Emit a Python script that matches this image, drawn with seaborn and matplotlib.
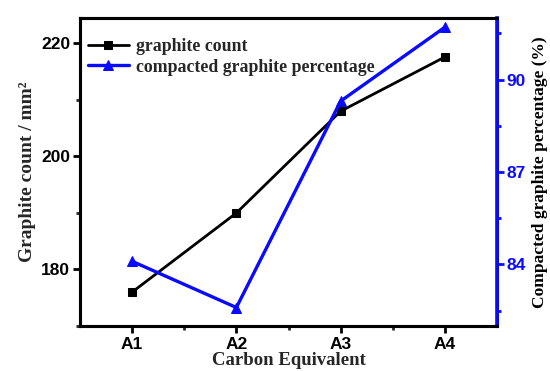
import matplotlib
matplotlib.use("Agg")
import matplotlib.pyplot as plt
import seaborn as sns
import pandas as pd
from matplotlib.ticker import MultipleLocator

categories = ["A1", "A2", "A3", "A4"]
graphite_count = [176, 190, 208, 217.6]
compacted_pct = [84.1, 82.6, 89.3, 91.7]

sns.set_style("ticks")
plt.rcParams['font.family'] = ['Liberation Sans', 'DejaVu Sans']

df = pd.DataFrame({"ce": categories, "count": graphite_count, "pct": compacted_pct})
df["x"] = range(len(categories))

fig = plt.figure(figsize=(5.5, 3.71), dpi=100)
ax = fig.add_axes([0.1455, 0.1213, 0.7581, 0.8302])
ax2 = ax.twinx()

sns.lineplot(data=df, x="x", y="count", ax=ax, color="black", marker="s",
             markersize=6, linewidth=2, markeredgecolor="black", label="graphite count",
             legend=False)
sns.lineplot(data=df, x="x", y="pct", ax=ax2, color="#0a0aff", marker="^",
             markersize=7.5, linewidth=2.4, markeredgecolor="#0a0aff",
             label="compacted graphite percentage", legend=False)

ax.set_xlim(-0.5, 3.5)
ax.set_ylim(170, 224.5)
ax2.set_ylim(82, 92)

ax.set_xticks(range(len(categories)))
ax.set_xticklabels(categories)
ax.set_xticks([0.5, 1.5, 2.5], minor=True)
ax.yaxis.set_major_locator(MultipleLocator(20))
ax.yaxis.set_minor_locator(MultipleLocator(10))
ax2.set_yticks([84, 87, 90])
ax2.set_yticks([82.5, 85.5, 88.5, 91.5], minor=True)

for a in (ax, ax2):
    for s in a.spines.values():
        s.set_linewidth(2.2)
        s.set_color("black")
ax2.spines["right"].set_color("#0a0aff")
ax2.spines["right"].set_linewidth(2.6)

ax.tick_params(axis="both", which="major", direction="out", length=5, width=2,
               labelsize=12.5, pad=2, colors="black")
ax.tick_params(axis="x", which="major", pad=3)
ax.tick_params(axis="both", which="minor", direction="out", length=3, width=2)
ax.tick_params(axis="y", right=False)
ax.tick_params(axis="x", top=False)
ax2.tick_params(axis="y", which="major", direction="out", length=5, width=2,
                labelsize=12.5, pad=2, colors="#0a0aff")
ax2.tick_params(axis="y", which="minor", direction="out", length=3, width=2,
                colors="#0a0aff")
for lab in ax.get_xticklabels() + ax.get_yticklabels() + ax2.get_yticklabels():
    lab.set_fontweight("bold")

serif = ['Liberation Serif', 'DejaVu Serif']
ax.set_xlabel("Carbon Equivalent", family=serif, fontweight="bold", fontsize=13.5, labelpad=0)
ax.set_ylabel("Graphite count / mm²", family=serif, fontweight="bold", fontsize=14, labelpad=4)
ax2.set_ylabel("Compacted graphite percentage (%)", family=serif, fontweight="bold",
               fontsize=12.5, labelpad=4, color="black")

h1 = ax.get_lines()[0]
h2 = ax2.get_lines()[0]
ax.legend([h1, h2], ["graphite count", "compacted graphite percentage"],
          loc="upper left", bbox_to_anchor=(0.019, 0.935), frameon=False,
          handlelength=2.3, handletextpad=0.4, borderaxespad=0, borderpad=0,
          labelspacing=0.2,
          prop={"family": serif, "weight": "bold", "size": 12.8})

fig.savefig("out.png", dpi=100)
